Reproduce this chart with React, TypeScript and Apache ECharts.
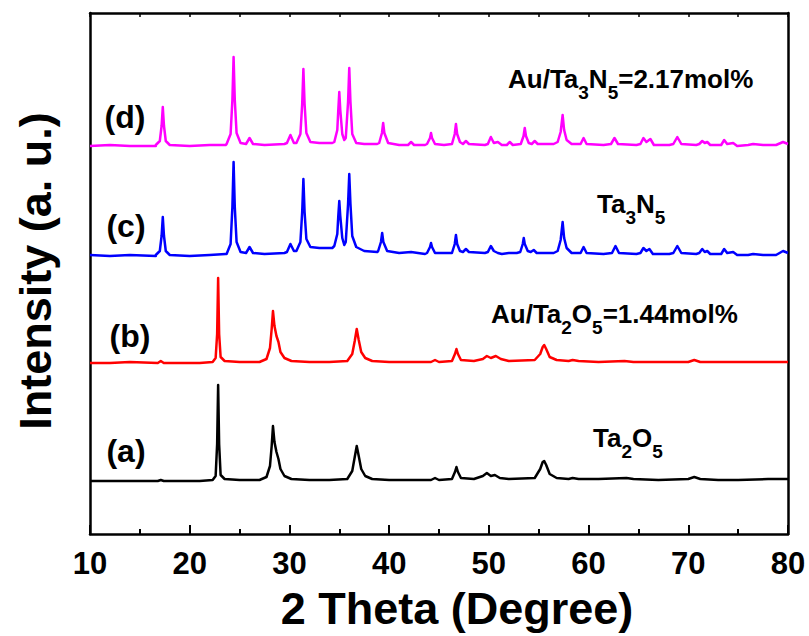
import React, { useEffect, useRef } from "react";
import * as echarts from "echarts";

const FONT = "'Liberation Sans', Arial, Helvetica, sans-serif";

// 2θ range and ticks
const X_MIN = 10;
const X_MAX = 80;
const X_STEP = 10;
const Y_MIN = 0;
const Y_MAX = 521;

// (d) Au/Ta3N5 = 2.17 mol%  [2θ, intensity (a.u., offset)]
const seriesD: number[][] = [
  [10, 388], [12, 389], [14, 388], [16.6, 388],
  [16.6, 389], [17.0, 393], [17.18, 408], [17.3, 427], [17.42, 408], [17.6, 393], [18.0, 389],
  [20, 388], [22, 389], [23.6, 389],
  [23.7, 390], [24.1, 400], [24.28, 434], [24.4, 477], [24.52, 434], [24.7, 401], [25.1, 391],
  [25.65, 390], [26.0, 396], [26.35, 390],
  [27.5, 389], [29.5, 390],
  [29.75, 391], [30.1, 399], [30.45, 391],
  [30.7, 391], [31.1, 400], [31.28, 430], [31.4, 465], [31.52, 430], [31.7, 401], [32.1, 392],
  [33, 391], [34.3, 391],
  [34.5, 392], [34.8, 404], [34.9, 424], [35.0, 442], [35.1, 424], [35.3, 400], [35.5, 394],
  [35.65, 396], [35.88, 432], [36.0, 466], [36.12, 432], [36.3, 400], [36.7, 391],
  [37.5, 390], [38.8, 390],
  [39.0, 391], [39.28, 401], [39.4, 411], [39.52, 401], [39.9, 391],
  [41, 389], [41.9, 389], [42.2, 392], [42.5, 389], [43.6, 389],
  [43.8, 390], [44.1, 396], [44.2, 401], [44.3, 396], [44.6, 390],
  [45.5, 389],
  [46.3, 390], [46.58, 400], [46.7, 410], [46.82, 400], [47.1, 392],
  [47.4, 390], [47.7, 393], [48.0, 390],
  [49.6, 389],
  [49.9, 390], [50.2, 397], [50.5, 391], [50.9, 392], [51.3, 389],
  [51.8, 389], [52.1, 392], [52.4, 389],
  [53.2, 390], [53.48, 398], [53.6, 406], [53.72, 398], [54.0, 391],
  [54.3, 390], [54.6, 393], [54.9, 390],
  [56.5, 390],
  [56.9, 392], [57.2, 402], [57.4, 419], [57.55, 404], [57.8, 394], [58.3, 390],
  [59.2, 390], [59.5, 396], [59.8, 390],
  [61.5, 389],
  [62.25, 390], [62.6, 396], [62.95, 390],
  [64.8, 389],
  [65.2, 390], [65.5, 396], [65.8, 392], [66.2, 395], [66.55, 389],
  [68.1, 389],
  [68.5, 390], [68.9, 397], [69.3, 390],
  [70.8, 389],
  [71.1, 390], [71.4, 393], [71.65, 391], [71.9, 392], [72.2, 389],
  [73.3, 389], [73.6, 394], [73.9, 390], [74.5, 391], [74.9, 388],
  [76, 389], [76.5, 390], [77.5, 389], [78.8, 389],
  [79.5, 392], [80, 390],
];

// (c) Ta3N5
const seriesC: number[][] = [
  [10, 279], [12, 278], [14, 279], [16.6, 278],
  [16.6, 279], [17.0, 283], [17.18, 298], [17.3, 317], [17.42, 298], [17.6, 283], [18.0, 279],
  [20, 278], [22, 279], [23.6, 280],
  [23.7, 280], [24.1, 290], [24.28, 327], [24.4, 372], [24.52, 327], [24.7, 292], [25.1, 282],
  [25.65, 281], [26.0, 287], [26.35, 281],
  [27.5, 280], [29.5, 281],
  [29.75, 282], [30.1, 290], [30.45, 283],
  [30.7, 283], [31.1, 292], [31.28, 322], [31.4, 355], [31.52, 322], [31.7, 295], [32.1, 287],
  [33, 286], [34.3, 286],
  [34.5, 288], [34.8, 300], [34.9, 318], [35.0, 333], [35.1, 318], [35.3, 296], [35.5, 289],
  [35.65, 292], [35.88, 330], [36.0, 360], [36.12, 330], [36.3, 298], [36.7, 287],
  [37.5, 283], [38.8, 282],
  [38.9, 283], [39.18, 292], [39.3, 301], [39.42, 292], [39.8, 283],
  [41, 281], [42.2, 282], [43.6, 280],
  [43.8, 281], [44.1, 287], [44.2, 291], [44.3, 287], [44.6, 281],
  [45.5, 281],
  [46.3, 281], [46.58, 290], [46.7, 299], [46.82, 290], [47.1, 283],
  [47.4, 282], [47.7, 285], [48.0, 282],
  [49.6, 281],
  [49.9, 282], [50.2, 288], [50.5, 283], [50.9, 281], [51.3, 280],
  [52.0, 281], [52.8, 281],
  [53.15, 282], [53.4, 290], [53.5, 296], [53.6, 290], [53.9, 283],
  [54.2, 282], [54.5, 284], [54.8, 281],
  [56.5, 281],
  [56.9, 283], [57.2, 294], [57.4, 312], [57.55, 296], [57.8, 286], [58.3, 281],
  [59.2, 281], [59.5, 287], [59.8, 281],
  [61.5, 280],
  [62.35, 281], [62.7, 288], [63.05, 281],
  [64.8, 280],
  [65.2, 281], [65.5, 286], [65.8, 283], [66.1, 285], [66.45, 280],
  [68.1, 280],
  [68.5, 281], [68.9, 288], [69.3, 281],
  [70.8, 280],
  [71.1, 281], [71.4, 285], [71.65, 282], [71.9, 283], [72.2, 280],
  [73.3, 280], [73.6, 285], [73.9, 281], [74.5, 282], [74.9, 279],
  [76, 279], [76.5, 280], [77.5, 279], [78.8, 279],
  [79.5, 283], [80, 281],
];

// (b) Au/Ta2O5 = 1.44 mol%
const seriesB: number[][] = [
  [10, 171], [12, 171], [14, 172], [16.8, 171], [17.1, 173], [17.4, 171], [19, 171], [21, 171], [22.3, 172],
  [22.6, 176], [22.75, 200], [22.85, 256], [22.95, 200], [23.1, 177], [23.5, 173],
  [25, 172], [27.0, 172], [27.7, 175], [28.05, 186], [28.22, 205], [28.35, 223], [28.5, 208], [28.7, 198],
  [28.9, 192], [29.1, 182], [29.5, 176], [30.2, 173], [32, 172], [34, 172],
  [35.8, 173], [36.3, 180], [36.55, 193], [36.75, 205], [36.95, 194], [37.2, 182], [37.6, 176], [38.3, 173],
  [40, 172], [42, 172], [44.2, 172], [44.6, 174], [45.0, 172],
  [46.3, 173], [46.6, 180], [46.75, 185], [46.9, 180], [47.2, 174], [48.5, 173],
  [49.4, 175], [49.8, 178], [50.2, 176], [50.7, 178], [51.2, 175], [52, 173],
  [54.6, 174], [55.15, 180], [55.4, 187], [55.55, 189], [55.75, 185], [56.1, 177], [56.8, 174],
  [58.0, 173], [58.4, 174], [59, 173], [61, 172], [63.6, 173], [64.5, 172], [67, 172],
  [70.0, 172], [70.6, 174], [71.2, 172], [73, 172], [75, 172], [78, 172], [80, 172],
];

// (a) Ta2O5
const seriesA: number[][] = [
  [10, 53], [12, 53], [14, 53], [16.8, 53], [17.1, 54], [17.4, 53], [19, 53], [21, 53], [22.3, 54],
  [22.6, 58], [22.75, 90], [22.85, 149], [22.95, 90], [23.1, 59], [23.5, 55],
  [25, 54], [27.0, 54], [27.7, 57], [28.05, 68], [28.22, 88], [28.35, 108], [28.5, 92], [28.7, 82],
  [28.9, 75], [29.1, 65], [29.5, 58], [30.2, 55], [32, 54], [34, 54],
  [35.8, 55], [36.3, 63], [36.55, 77], [36.75, 88], [36.95, 78], [37.2, 65], [37.6, 58], [38.3, 55],
  [40, 54], [42, 54], [44.2, 54], [44.6, 56], [45.0, 54],
  [46.3, 55], [46.6, 62], [46.75, 67], [46.9, 62], [47.2, 56], [48.5, 55],
  [49.4, 58], [49.8, 61], [50.2, 58], [50.6, 59], [51.1, 56], [52, 55],
  [54.6, 56], [55.15, 65], [55.4, 72], [55.55, 73], [55.75, 69], [56.1, 60], [56.8, 56],
  [58.0, 55], [58.4, 56], [59, 55], [61, 55], [63.8, 56], [64.5, 55], [67, 54],
  [70.0, 55], [70.6, 57], [71.2, 55], [73, 54], [75, 54], [78, 55], [80, 55],
];

const SERIES = [
  { name: "(a) Ta2O5", data: seriesA, color: "#000000" },
  { name: "(b) Au/Ta2O5=1.44mol%", data: seriesB, color: "#FF0000" },
  { name: "(c) Ta3N5", data: seriesC, color: "#0000FF" },
  { name: "(d) Au/Ta3N5=2.17mol%", data: seriesD, color: "#FF00FF" },
];

const X_TITLE = "2 Theta (Degree)";
const Y_TITLE = "Intensity (a. u.)";

const richStyles = {
  n: { fontSize: 26, fontWeight: "bold", fontFamily: FONT, lineHeight: 36, fill: "#000", color: "#000", verticalAlign: "middle" },
  s: { fontSize: 19, fontWeight: "bold", fontFamily: FONT, lineHeight: 10, height: 10, fill: "#000", color: "#000", verticalAlign: "bottom" },
};

function richText(x: number, y: number, text: string) {
  return {
    type: "text",
    x,
    y,
    style: {
      text,
      rich: richStyles,
      align: "left",
      textAlign: "left",
      verticalAlign: "top",
      textVerticalAlign: "top",
      fill: "#000",
      font: `bold 26px ${FONT}`,
    },
  };
}

function plainText(x: number, y: number, text: string, size: number, rotation = 0) {
  return {
    type: "text",
    x,
    y,
    rotation,
    style: {
      text,
      fill: "#000",
      font: `bold ${size}px ${FONT}`,
      align: "center",
      textAlign: "center",
      verticalAlign: "middle",
      textVerticalAlign: "middle",
    },
  };
}

export default function App() {
  const ref = useRef<HTMLDivElement>(null);

  useEffect(() => {
    if (!ref.current) return;
    const chart = echarts.init(ref.current, undefined, { renderer: "svg" });
    const axisLineStyle = { color: "#000", width: 2.5 };
    chart.setOption({
      animation: false,
      backgroundColor: "#fff",
      grid: { left: 90, right: 21, top: 13, bottom: 102, containLabel: false },
      xAxis: [
        {
          type: "value",
          position: "bottom",
          min: X_MIN,
          max: X_MAX,
          interval: X_STEP,
          axisLine: { show: true, onZero: false, lineStyle: axisLineStyle },
          axisTick: { show: true, inside: true, length: 9, lineStyle: { color: "#000", width: 2 } },
          minorTick: { show: true, splitNumber: 2, length: 5, lineStyle: { color: "#000", width: 2 } },
          splitLine: { show: false },
          minorSplitLine: { show: false },
          axisLabel: { show: true, fontSize: 31, fontWeight: "bold", fontFamily: FONT, color: "#000", margin: 14 },
        },
        {
          type: "value",
          position: "top",
          min: X_MIN,
          max: X_MAX,
          interval: 5,
          axisLine: { show: true, onZero: false, lineStyle: axisLineStyle },
          axisTick: { show: true, inside: true, length: 4, lineStyle: { color: "#000", width: 1.5 } },
          splitLine: { show: false },
          axisLabel: { show: false },
        },
      ],
      yAxis: [
        {
          type: "value",
          position: "left",
          min: Y_MIN,
          max: Y_MAX,
          axisLine: { show: true, onZero: false, lineStyle: axisLineStyle },
          axisTick: { show: false },
          splitLine: { show: false },
          axisLabel: { show: false },
        },
        {
          type: "value",
          position: "right",
          min: Y_MIN,
          max: Y_MAX,
          axisLine: { show: true, onZero: false, lineStyle: axisLineStyle },
          axisTick: { show: false },
          splitLine: { show: false },
          axisLabel: { show: false },
        },
      ],
      series: SERIES.map((s) => ({
        name: s.name,
        type: "line",
        xAxisIndex: 0,
        yAxisIndex: 0,
        data: s.data,
        showSymbol: false,
        symbol: "none",
        lineStyle: { color: s.color, width: 2.5, join: "round" },
        itemStyle: { color: s.color },
        emphasis: { disabled: true },
      })),
      graphic: [
        plainText(457, 608.5, X_TITLE, 45),
        plainText(35, 271, Y_TITLE, 45, Math.PI / 2),
        plainText(125, 117, "(d)", 32),
        plainText(126, 226, "(c)", 32),
        plainText(130, 336, "(b)", 32),
        plainText(126, 451, "(a)", 32),
        richText(508, 61, "{n|Au/Ta}{s|3}{n|N}{s|5}{n|=2.17mol%}"),
        richText(597, 186, "{n|Ta}{s|3}{n|N}{s|5}"),
        richText(491, 296, "{n|Au/Ta}{s|2}{n|O}{s|5}{n|=1.44mol%}"),
        richText(593, 420, "{n|Ta}{s|2}{n|O}{s|5}"),
      ],
    });
    return () => chart.dispose();
  }, []);

  return (
    <div
      ref={ref}
      style={{ position: "absolute", left: 0, top: 0, width: 809, height: 636, background: "#fff" }}
    />
  );
}
